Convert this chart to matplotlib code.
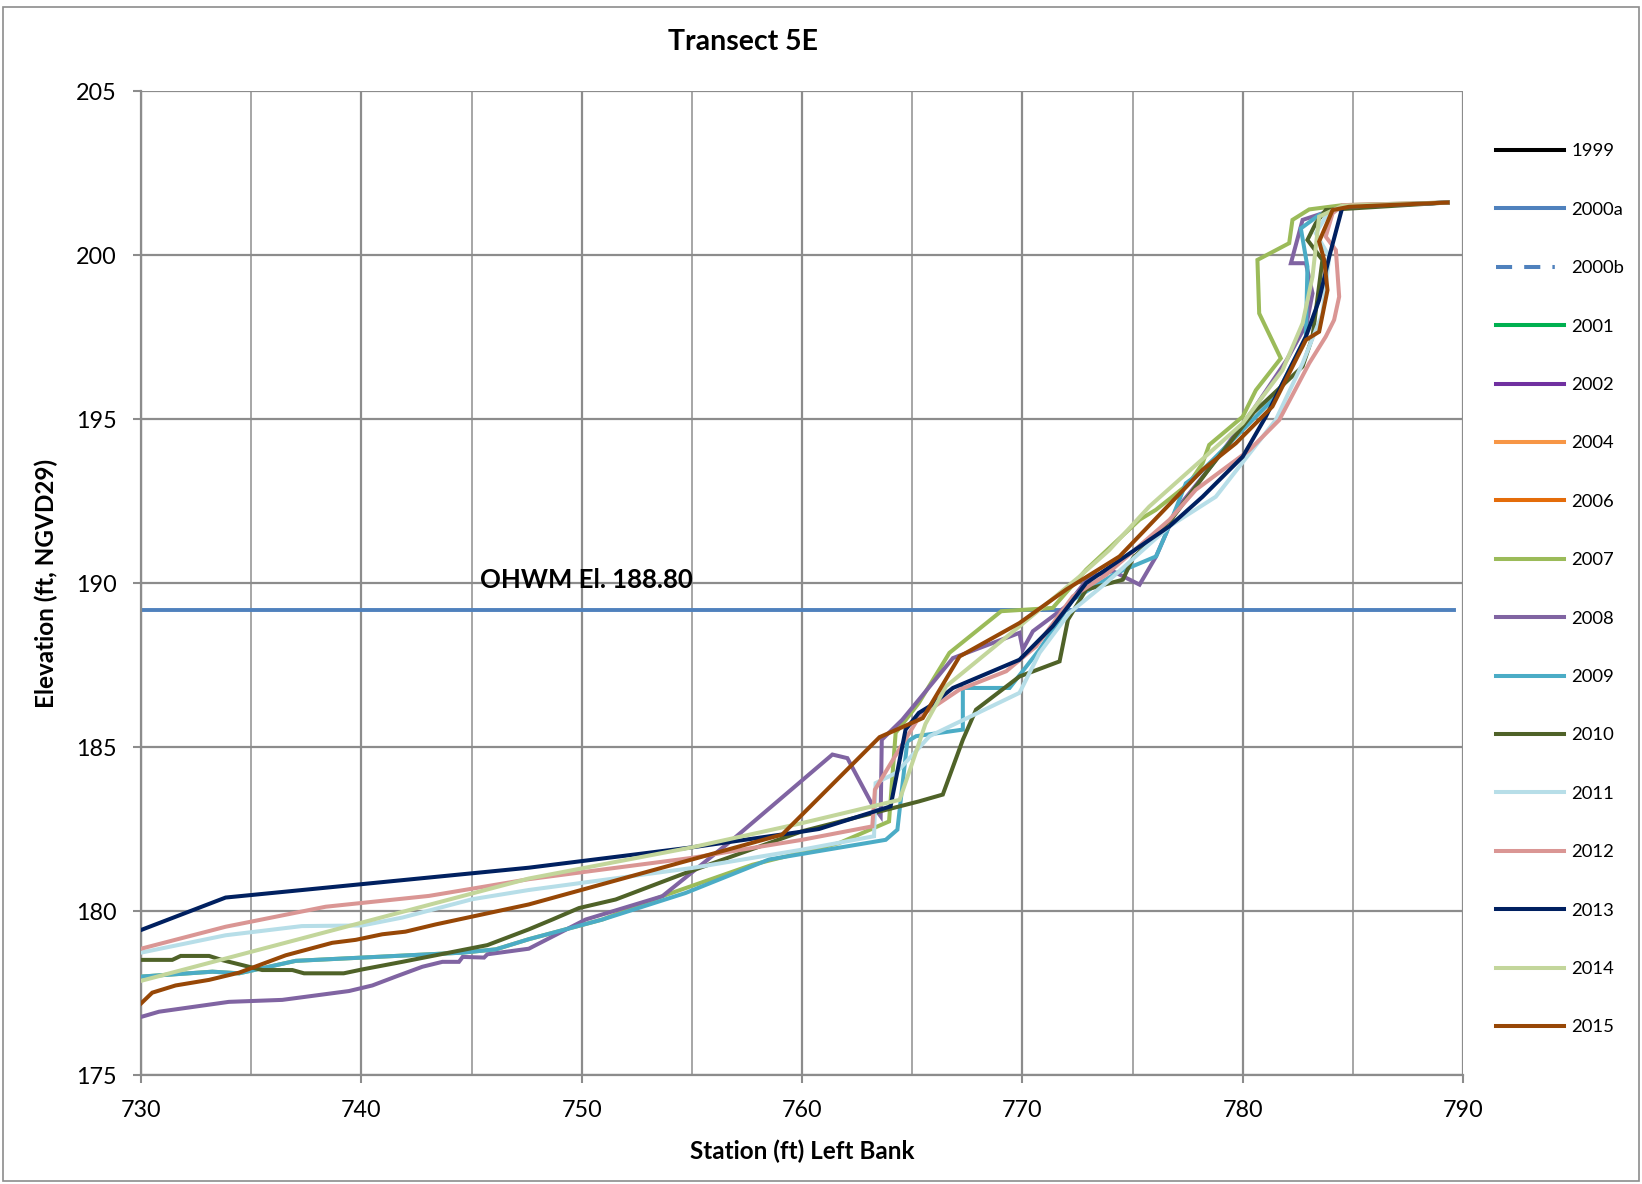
import matplotlib
matplotlib.use("Agg")
import matplotlib.pyplot as plt
from matplotlib.lines import Line2D
from matplotlib.patches import Rectangle

plt.rcParams['font.family'] = ['Lato', 'DejaVu Sans']

# ---------------- data (station ft, elevation ft) ----------------
x2007 = [730, 733.24, 734.45, 737.02, 740.05, 744.58, 746.1, 747.6, 750.94, 753.66, 757.75, 761.68, 763.95,
         764.25, 765.3, 766.69, 769.04, 771.38, 772.9, 775.32, 776.06, 777.57, 778.18, 778.48, 780.0, 780.6,
         781.73, 780.75, 780.67, 782.11, 782.26, 783.02, 784.53, 789.3]
y2007 = [178.0, 178.15, 178.1, 178.48, 178.58, 178.73, 178.83, 179.14, 179.74, 180.45, 181.41, 182.07, 182.73,
         185.43, 186.34, 187.87, 189.14, 189.24, 190.41, 191.93, 192.23, 193.04, 193.65, 194.21, 195.07, 195.88,
         196.85, 198.22, 199.85, 200.36, 201.07, 201.39, 201.52, 201.6]

x2008 = [730, 730.82, 733.99, 736.41, 739.44, 740.5, 741.56, 742.77, 743.68, 744.43, 744.6, 745.57, 745.72,
         747.6, 750.18, 753.66, 756.84, 761.38, 762.06, 763.19, 763.57, 763.62, 764.55, 765.3, 766.85, 769.87,
         770.02, 770.48, 771.99, 773.05, 774.11, 775.32, 776.07, 776.53, 776.97, 778.5, 780.5, 782.0, 782.9,
         783.17, 782.87, 782.19, 782.72, 783.62, 784.53, 789.3]
y2008 = [176.77, 176.93, 177.23, 177.29, 177.56, 177.73, 178.0, 178.3, 178.45, 178.45, 178.6, 178.58, 178.68,
         178.85, 179.74, 180.45, 182.17, 184.77, 184.66, 183.24, 182.89, 185.22, 185.83, 186.44, 187.71, 188.48,
         187.97, 188.53, 189.29, 190.2, 190.36, 189.95, 190.81, 191.52, 192.23, 193.5, 195.3, 196.8, 197.9,
         198.83, 199.75, 199.75, 201.07, 201.27, 201.47, 201.6]

x2009 = [730, 733.24, 734.45, 737.02, 740.05, 744.58, 746.1, 747.6, 750.94, 754.72, 758.5, 763.8, 764.33,
         764.78, 765.18, 767.3, 767.3, 769.42, 770.78, 772.29, 774.26, 776.07, 776.53, 777.42, 778.03, 780.3,
         781.5, 782.87, 782.94, 782.64, 783.47, 784.53, 789.3]
y2009 = [178.0, 178.15, 178.1, 178.48, 178.58, 178.73, 178.83, 179.14, 179.74, 180.55, 181.57, 182.17, 182.48,
         185.17, 185.33, 185.53, 186.8, 186.8, 187.97, 189.49, 190.3, 190.81, 191.52, 193.04, 193.34, 194.87,
         195.68, 197.51, 199.64, 200.81, 201.22, 201.47, 201.6]

x2010 = [730, 731.42, 731.8, 733.09, 733.7, 735.5, 736.87, 737.4, 739.2, 740.05, 741.86, 745.72, 747.6, 748.67,
         749.88, 751.54, 754.72, 760.0, 765.3, 766.39, 767.3, 767.9, 769.87, 771.69, 772.07, 772.9, 774.56,
         775.02, 776.53, 778.5, 780.5, 782.72, 783.17, 783.62, 782.94, 783.32, 783.77, 789.3]
y2010 = [178.51, 178.51, 178.63, 178.63, 178.5, 178.2, 178.2, 178.1, 178.1, 178.22, 178.45, 178.96, 179.44,
         179.74, 180.09, 180.35, 181.16, 182.43, 183.34, 183.55, 185.22, 186.14, 187.15, 187.61, 188.88, 189.8,
         190.1, 190.76, 191.73, 193.5, 195.2, 196.6, 197.51, 199.85, 200.46, 200.97, 201.37, 201.6]

x2011 = [730, 733.84, 737.3, 740.05, 741.86, 745.04, 747.6, 755, 760, 763.27, 763.34, 764.27, 765.79, 769.87,
         770.78, 772.14, 773.8, 776.68, 778.78, 781.5, 782.72, 783.62, 783.93, 783.32, 783.77, 784.53, 789.3]
y2011 = [178.73, 179.26, 179.54, 179.56, 179.8, 180.36, 180.64, 181.31, 181.87, 182.28, 183.9, 184.21, 185.33,
         186.65, 187.87, 189.09, 190.0, 191.73, 192.63, 194.97, 196.7, 198.22, 199.95, 200.66, 201.17, 201.47,
         201.6]

x2012 = [730, 733.84, 738.38, 743.07, 747.6, 755, 760, 763.19, 763.31, 764.27, 765.33, 767.15, 769.27, 770.63,
         772.29, 773.8, 776.68, 777.87, 780.3, 781.66, 783.02, 783.77, 784.15, 784.38, 784.23, 783.77, 784.08,
         784.53, 789.3]
y2012 = [178.85, 179.52, 180.13, 180.46, 180.97, 181.62, 182.17, 182.58, 183.7, 184.77, 185.93, 186.75, 187.31,
         188.07, 189.59, 190.25, 191.93, 192.84, 194.05, 194.97, 196.7, 197.51, 198.02, 198.73, 200.15, 200.56,
         201.27, 201.52, 201.6]

x2013 = [730, 733.84, 747.6, 755, 760, 760.77, 764.02, 764.7, 765.3, 765.79, 766.85, 769.87, 771.38, 772.9,
         776.68, 778.18, 780.0, 781.05, 782.87, 783.47, 783.93, 784.53, 789.3]
y2013 = [179.42, 180.41, 181.32, 181.94, 182.42, 182.5, 183.19, 185.53, 186.04, 186.24, 186.8, 187.66, 188.68,
         190.0, 191.73, 192.63, 193.85, 195.07, 197.51, 198.63, 199.95, 201.47, 201.6]

x2014 = [730, 747.6, 755, 760, 764.43, 765.1, 765.6, 766.54, 769.87, 772.6, 773.94, 775.76, 780.0, 781.81,
         782.72, 783.17, 783.47, 784.53, 789.3]
y2014 = [177.87, 180.99, 181.94, 182.68, 183.39, 184.7, 185.7, 186.85, 188.68, 190.2, 191.0, 192.33, 194.87,
         196.49, 197.92, 199.34, 201.17, 201.5, 201.6]

x2015 = [730, 730.51, 731.57, 733.09, 734.45, 736.57, 738.68, 739.74, 740.95, 742.0, 743.37, 747.6, 755, 759.1,
         763.52, 765.48, 767.15, 769.87, 771.99, 774.41, 776.21, 778.18, 779.69, 781.35, 782.87, 783.47, 783.85,
         783.7, 783.47, 784.08, 784.83, 789.3]
y2015 = [177.18, 177.51, 177.73, 177.9, 178.12, 178.65, 179.03, 179.12, 179.29, 179.37, 179.59, 180.2, 181.57,
         182.33, 185.3, 185.88, 187.76, 188.78, 189.8, 190.81, 192.07, 193.45, 194.26, 195.38, 197.41, 197.66,
         198.93, 199.85, 200.41, 201.37, 201.47, 201.6]

ohwm_x = [730, 789.6]
ohwm_y = [189.17, 189.17]
ohwm_label = "OHWM El. 188.80"

legend_years = ["1999", "2000a", "2000b", "2001", "2002", "2004", "2006", "2007", "2008", "2009",
                "2010", "2011", "2012", "2013", "2014", "2015"]
colors = {"1999": "#000000", "2000a": "#4F81BD", "2000b": "#4F81BD", "2001": "#00B050", "2002": "#7030A0",
          "2004": "#F79646", "2006": "#E46C0A", "2007": "#9BBB59", "2008": "#8064A2", "2009": "#4BACC6",
          "2010": "#4F6228", "2011": "#B7DEE8", "2012": "#DA9694", "2013": "#002060", "2014": "#C3D69B",
          "2015": "#974706"}
series = {"2007": (x2007, y2007), "2008": (x2008, y2008), "2009": (x2009, y2009), "2010": (x2010, y2010),
          "2011": (x2011, y2011), "2012": (x2012, y2012), "2013": (x2013, y2013), "2014": (x2014, y2014),
          "2015": (x2015, y2015)}

# ---------------- figure ----------------
fig = plt.figure(figsize=(16.42, 11.84), dpi=100)
ax = fig.add_axes([141/1642, 1-1075/1184, (1463-141)/1642, (1075-91)/1184])

grid_c = "#8c8c8c"
ax.set_xlim(730, 790)
ax.set_ylim(175, 205)
ax.set_xticks(range(730, 791, 10))
ax.set_xticks(range(735, 790, 10), minor=True)
ax.set_yticks(range(175, 206, 5))
ax.grid(True, which='both', axis='x', color="#a6a6a6", lw=1.4)
ax.grid(True, which='major', axis='x', color=grid_c, lw=1.6)
ax.grid(True, which='major', axis='y', color=grid_c, lw=1.6)
ax.tick_params(axis='both', which='major', direction='out', length=6, width=1.5, color=grid_c,
               labelsize=16.8)
ax.tick_params(axis='x', which='major', pad=12)
ax.tick_params(axis='y', which='major', pad=11.5)
ax.tick_params(axis='x', which='minor', length=0)
for s in ['left', 'bottom']:
    ax.spines[s].set_color(grid_c)
    ax.spines[s].set_linewidth(1.6)
for s in ['top', 'right']:
    ax.spines[s].set_visible(False)
ax.set_axisbelow(True)

ax.plot(ohwm_x, ohwm_y, color="#4F81BD", lw=2.8, zorder=2)
ax.text(745.4, 190.1, ohwm_label, fontsize=18.5, fontweight='bold', va='center', ha='left')

for yr in legend_years:
    if yr in series:
        xs, ys = series[yr]
        ax.plot(xs, ys, color=colors[yr], lw=2.9, solid_joinstyle='miter', zorder=3)

ax.set_xlabel("Station (ft) Left Bank", fontsize=17.5, fontweight='bold', labelpad=13)
ax.set_ylabel("Elevation (ft, NGVD29)", fontsize=17.5, fontweight='bold', labelpad=13)
fig.text(743/1642, 1-42/1184, "Transect 5E", fontsize=20.5, fontweight='bold', ha='center', va='center')

handles = []
for yr in legend_years:
    if yr == "2000b":
        h = Line2D([], [], color=colors[yr], lw=2.9, dashes=(4, 3, 4, 3, 0.6, 3))
    else:
        h = Line2D([], [], color=colors[yr], lw=2.9)
    handles.append(h)
fig.legend(handles, legend_years, loc='upper left', bbox_to_anchor=(1496/1642, 1-143.5/1184),
           frameon=False, fontsize=13.3, handlelength=3.68, handletextpad=0.4, labelspacing=2.295,
           borderpad=0, borderaxespad=0)

fig.patches.append(Rectangle((3/1642, 3/1184), 1636/1642, 1174/1184, transform=fig.transFigure,
                             fill=False, edgecolor="#8c8c8c", lw=1.2))

fig.savefig("out.png", dpi=100)
